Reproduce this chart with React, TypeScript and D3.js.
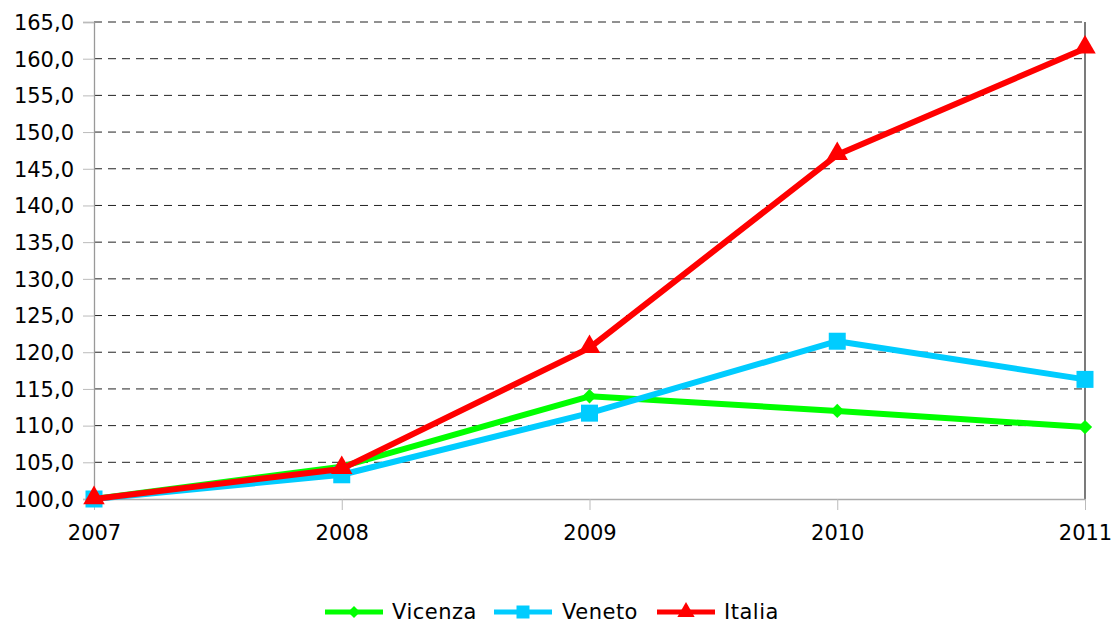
import React, { useEffect, useRef } from 'react';
import * as d3 from 'd3';

const years = ['2007', '2008', '2009', '2010', '2011'];
const vicenza = [100, 104.4, 114.0, 112.0, 109.8];
const veneto = [100, 103.3, 111.7, 121.5, 116.3];
const italia = [100, 104.1, 120.6, 146.9, 161.4];
const yTicks = [100, 105, 110, 115, 120, 125, 130, 135, 140, 145, 150, 155, 160, 165];

const series = [
  { name: 'Vicenza', values: vicenza, color: '#00ff00', marker: 'diamond' },
  { name: 'Veneto', values: veneto, color: '#00ccff', marker: 'square' },
  { name: 'Italia', values: italia, color: '#ff0000', marker: 'triangle' },
];

const App = () => {
  const ref = useRef<SVGSVGElement>(null);

  useEffect(() => {
    const svg = d3.select(ref.current);
    svg.selectAll('*').remove();
    const font = 'Verdana, "DejaVu Sans", sans-serif';

    const left = 94, right = 1085, top = 22, bottom = 499;
    const x = d3.scalePoint().domain(years).range([left, right]);
    const y = d3.scaleLinear().domain([100, 165]).range([bottom, top]);

    // gridlines
    svg.append('g')
      .selectAll('line')
      .data(yTicks.slice(1))
      .enter()
      .append('line')
      .attr('x1', left)
      .attr('x2', right)
      .attr('y1', d => y(d))
      .attr('y2', d => y(d))
      .attr('stroke', '#222')
      .attr('stroke-width', 1)
      .attr('stroke-dasharray', '8,6');

    // right border
    svg.append('line')
      .attr('x1', right).attr('x2', right)
      .attr('y1', top).attr('y2', bottom)
      .attr('stroke', '#333').attr('stroke-width', 1.3);

    // y axis
    const yAxis = svg.append('g')
      .attr('transform', `translate(${left},0)`)
      .call(d3.axisLeft(y).tickValues(yTicks).tickSize(11).tickFormat(d => d3.format('.1f')(d as number).replace('.', ',')));
    yAxis.select('.domain').attr('stroke', '#999').attr('stroke-width', 1.3);
    yAxis.selectAll('.tick line').attr('stroke', '#bbb');
    yAxis.selectAll('text')
      .attr('font-family', font).attr('font-size', 21).attr('fill', '#000')
      .attr('x', -20).attr('dy', '0.35em');

    // x axis
    const xAxis = svg.append('g')
      .attr('transform', `translate(0,${bottom})`)
      .call(d3.axisBottom(x).tickSize(11).tickSizeOuter(0));
    xAxis.select('.domain').attr('stroke', '#aaa').attr('stroke-width', 1.3);
    xAxis.selectAll('.tick line').attr('stroke', '#bbb');
    xAxis.selectAll('text')
      .attr('font-family', font).attr('font-size', 21).attr('fill', '#000')
      .attr('y', 26).attr('dy', '0.71em');

    const line = d3.line<number>()
      .x((_, i) => x(years[i])!)
      .y(d => y(d));

    const markerPath = (m: string) => {
      if (m === 'diamond') return d3.symbol(d3.symbolDiamond2, 130)()!;
      if (m === 'square') return d3.symbol(d3.symbolSquare, 289)()!;
      return d3.symbol(d3.symbolTriangle, 200)()!;
    };

    series.forEach(s => {
      const g = svg.append('g');
      g.append('path')
        .datum(s.values)
        .attr('d', line)
        .attr('fill', 'none')
        .attr('stroke', s.color)
        .attr('stroke-width', 6)
        .attr('stroke-linejoin', 'round');
      g.selectAll('path.m')
        .data(s.values)
        .enter()
        .append('path')
        .attr('class', 'm')
        .attr('d', markerPath(s.marker))
        .attr('transform', (d, i) => `translate(${x(years[i])},${y(d) + (s.marker === 'triangle' ? -1 : 0)})`)
        .attr('fill', s.color);
    });

    // legend
    const legendItems = [
      { x: 325, tx: 392 },
      { x: 494, tx: 562 },
      { x: 657, tx: 724 },
    ];
    const ly = 612;
    series.forEach((s, i) => {
      const li = legendItems[i];
      const g = svg.append('g');
      g.append('line')
        .attr('x1', li.x).attr('x2', li.x + 58)
        .attr('y1', ly).attr('y2', ly)
        .attr('stroke', s.color).attr('stroke-width', 5);
      g.append('path')
        .attr('d', s.marker === 'diamond' ? d3.symbol(d3.symbolDiamond2, 90)()! : s.marker === 'square' ? d3.symbol(d3.symbolSquare, 169)()! : d3.symbol(d3.symbolTriangle, 130)()!)
        .attr('transform', `translate(${li.x + 29},${ly})`)
        .attr('fill', s.color);
      g.append('text')
        .attr('x', li.tx).attr('y', ly)
        .attr('dy', '0.35em')
        .attr('font-family', font).attr('font-size', 21)
        .attr('letter-spacing', 0.5)
        .text(s.name);
    });
  }, []);

  return <svg ref={ref} width={1113} height={624} style={{ position: 'absolute', left: 0, top: 0 }} />;
};

export default App;
